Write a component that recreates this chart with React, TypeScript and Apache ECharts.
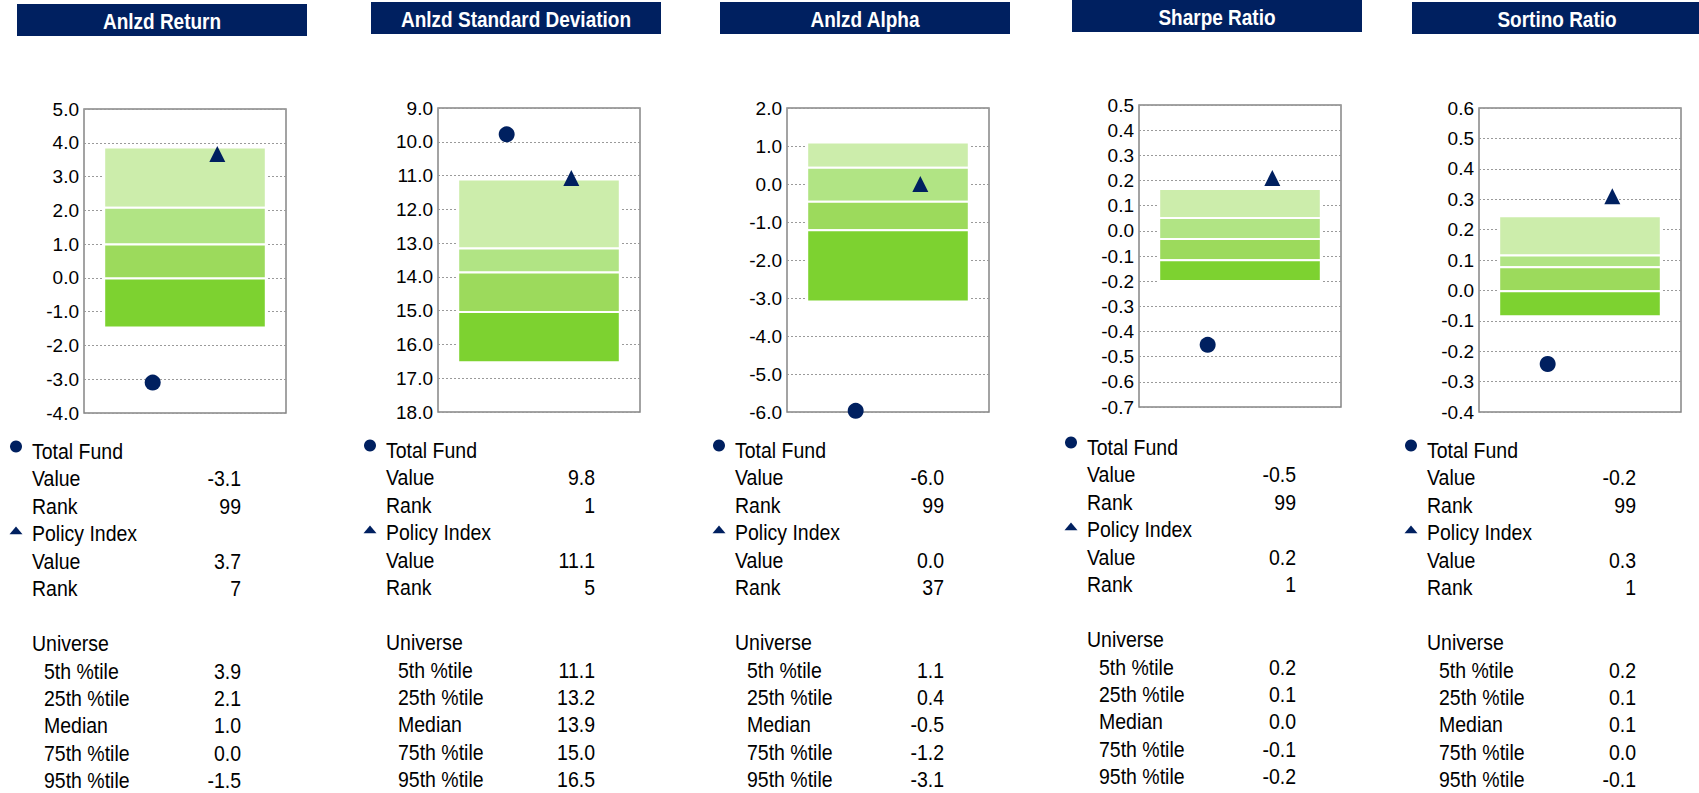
import React, { useEffect, useRef } from 'react';
import * as echarts from 'echarts';

// ---------- data ----------
const titles = ['Anlzd Return', 'Anlzd Standard Deviation', 'Anlzd Alpha', 'Sharpe Ratio', 'Sortino Ratio'];
const fundValues = [-3.1, 9.78, -5.97, -0.453, -0.242];
const fundRanks = [99, 1, 99, 99, 99];
const policyValues = [3.67, 11.07, 0.0, 0.21, 0.31];
const policyRanks = [7, 5, 37, 1, 1];
const pct5 = [3.86, 11.12, 1.09, 0.166, 0.244];
const pct25 = [2.08, 13.16, 0.43, 0.051, 0.115];
const pctMedian = [0.99, 13.87, -0.47, -0.032, 0.076];
const pct75 = [-0.02, 15.04, -1.22, -0.117, -0.003];
const pct95 = [-1.47, 16.53, -3.09, -0.199, -0.085];
const axisMin = [-4, 9, -6, -0.7, -0.4];
const axisMax = [5, 18, 2, 0.5, 0.6];
const axisStep = [1, 1, 1, 0.1, 0.1];
const axisInverse = [false, true, false, false, false];
const percentileLabels = ['5th %tile', '25th %tile', 'Median', '75th %tile', '95th %tile'];

// ---------- layout / style ----------
const PANEL_LEFT = [84, 438, 787, 1139, 1479];
const PANEL_TOP = [109, 108, 108, 105, 108];
const PANEL_H = [304, 304, 304, 302, 304];
const TITLE_TOP = [4, 2, 2, 0, 2];
const PANEL_W = 202;
const BAR_X0 = 0.1;
const BAR_X1 = 0.9;
const FUND_X = 0.34;
const POLICY_X = 0.66;
const NAVY = '#002060';
const BAND_COLORS = ['#CCEDAB', '#B1E484', '#9CDA5C', '#7DD230'];
const FONT = '"Liberation Sans", Arial, Helvetica, sans-serif';
const ROW_H = 27.45;

const fmt = (v: number) => {
  const s = v.toFixed(1);
  return s === '-0.0' ? '0.0' : s;
};

function buildOption() {
  const grid: any[] = [];
  const xAxis: any[] = [];
  const yAxis: any[] = [];
  const series: any[] = [];
  const elements: any[] = [];

  titles.forEach((title, i) => {
    const left = PANEL_LEFT[i];
    const top = PANEL_TOP[i];
    grid.push({
      left,
      top,
      width: PANEL_W,
      height: PANEL_H[i],
      show: true,
      borderColor: '#858585',
      borderWidth: 1.5,
      backgroundColor: 'transparent',
      containLabel: false,
    });
    xAxis.push({
      type: 'value',
      gridIndex: i,
      min: 0,
      max: 1,
      show: false,
      splitLine: { show: false },
    });
    yAxis.push({
      type: 'value',
      gridIndex: i,
      min: axisMin[i],
      max: axisMax[i],
      interval: axisStep[i],
      inverse: axisInverse[i],
      axisLine: { show: false },
      axisTick: { show: false },
      axisLabel: {
        color: '#000',
        fontSize: 19,
        fontFamily: FONT,
        margin: 5,
        formatter: (v: number) => fmt(v),
      },
      splitLine: { show: true, lineStyle: { color: '#9a9a9a', width: 1, type: [2, 2] } },
    });

    const bounds = [pct5[i], pct25[i], pctMedian[i], pct75[i], pct95[i]];
    const bandData = [0, 1, 2, 3].map((k) => [0.5, bounds[k], bounds[k + 1], k]);
    series.push({
      type: 'custom',
      xAxisIndex: i,
      yAxisIndex: i,
      z: 2,
      encode: { x: 0, y: [1, 2] },
      data: bandData,
      renderItem: (params: any, api: any) => {
        const a = api.value(1);
        const b = api.value(2);
        const k = api.value(3);
        const p1 = api.coord([BAR_X0, a]);
        const p2 = api.coord([BAR_X1, b]);
        return {
          type: 'rect',
          shape: {
            x: Math.min(p1[0], p2[0]),
            y: Math.min(p1[1], p2[1]),
            width: Math.abs(p2[0] - p1[0]),
            height: Math.abs(p2[1] - p1[1]),
          },
          style: { fill: BAND_COLORS[k], stroke: '#ffffff', lineWidth: 2 },
        };
      },
    });
    series.push({
      type: 'scatter',
      name: 'Total Fund',
      xAxisIndex: i,
      yAxisIndex: i,
      z: 3,
      symbol: 'circle',
      symbolSize: 16,
      itemStyle: { color: NAVY, opacity: 1 },
      data: [[FUND_X, fundValues[i]]],
    });
    series.push({
      type: 'scatter',
      name: 'Policy Index',
      xAxisIndex: i,
      yAxisIndex: i,
      z: 3,
      symbol: 'triangle',
      symbolSize: 16,
      itemStyle: { color: NAVY, opacity: 1 },
      data: [[POLICY_X, policyValues[i]]],
    });

    // title bar
    const tLeft = left - 67;
    elements.push({
      type: 'rect',
      shape: { x: tLeft, y: TITLE_TOP[i], width: 290, height: 32 },
      style: { fill: NAVY },
      silent: true,
    });
    elements.push({
      type: 'text',
      x: tLeft + 145,
      y: TITLE_TOP[i] + 16.5,
      scaleY: 1.16,
      style: {
        text: title,
        x: 0,
        y: 0,
        fill: '#ffffff',
        font: `bold 19px ${FONT}`,
        align: 'center',
        verticalAlign: 'middle',
        textAlign: 'center',
        textVerticalAlign: 'middle',
      },
      silent: true,
    });

    // stats table
    const mx = left - 68;
    const tx = mx + 16;
    const ix = mx + 28;
    const rx = mx + 225;
    const row0 = top + 342;
    const rowY = (r: number) => row0 + r * ROW_H;
    const addText = (text: string, x: number, y: number, align: string) => {
      elements.push({
        type: 'text',
        x,
        y,
        scaleY: 1.12,
        style: {
          text,
          x: 0,
          y: 0,
          fill: '#000',
          font: `19.5px ${FONT}`,
          align,
          verticalAlign: 'middle',
          textAlign: align,
          textVerticalAlign: 'middle',
        },
        silent: true,
      });
    };
    elements.push({
      type: 'circle',
      shape: { cx: mx, cy: rowY(0) - 4.5, r: 6 },
      style: { fill: NAVY },
      silent: true,
    });
    addText('Total Fund', tx, rowY(0), 'left');
    addText('Value', tx, rowY(1), 'left');
    addText(fmt(fundValues[i]), rx, rowY(1), 'right');
    addText('Rank', tx, rowY(2), 'left');
    addText(String(fundRanks[i]), rx, rowY(2), 'right');
    const ty = rowY(3) - 3;
    elements.push({
      type: 'polygon',
      shape: { points: [[mx - 6.5, ty + 3.8], [mx + 6.5, ty + 3.8], [mx, ty - 3.8]] },
      style: { fill: NAVY },
      silent: true,
    });
    addText('Policy Index', tx, rowY(3), 'left');
    addText('Value', tx, rowY(4), 'left');
    addText(fmt(policyValues[i]), rx, rowY(4), 'right');
    addText('Rank', tx, rowY(5), 'left');
    addText(String(policyRanks[i]), rx, rowY(5), 'right');
    addText('Universe', tx, rowY(7), 'left');
    percentileLabels.forEach((lab, k) => {
      addText(lab, ix, rowY(8 + k), 'left');
      addText(fmt(bounds[k]), rx, rowY(8 + k), 'right');
    });
  });

  return {
    animation: false,
    backgroundColor: '#ffffff',
    grid,
    xAxis,
    yAxis,
    series,
    graphic: { elements },
  };
}

export default function App() {
  const ref = useRef<HTMLDivElement>(null);
  useEffect(() => {
    if (!ref.current) return;
    const chart = echarts.init(ref.current, undefined, { renderer: 'svg' });
    chart.setOption(buildOption());
    return () => chart.dispose();
  }, []);
  return (
    <div
      ref={ref}
      style={{ position: 'absolute', left: 0, top: 0, width: 1699, height: 793 }}
    />
  );
}
